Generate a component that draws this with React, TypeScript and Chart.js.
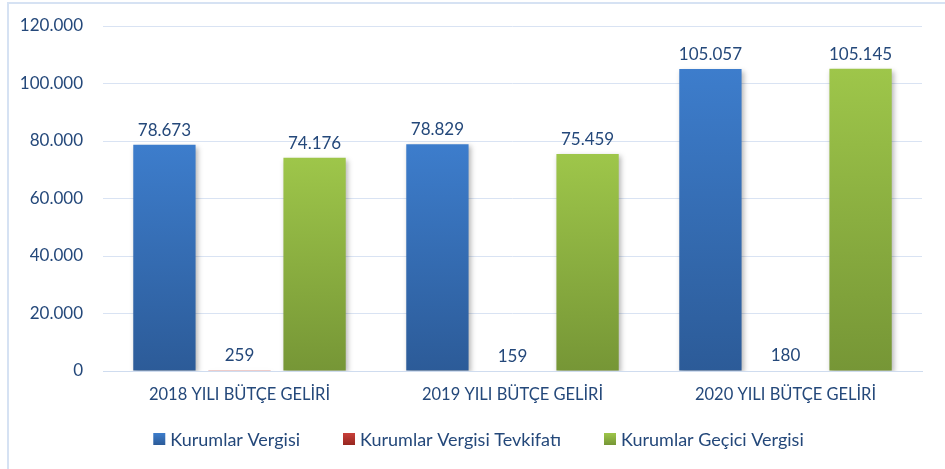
import React, { useEffect, useRef } from "react";
import { Chart, registerables } from "chart.js";

Chart.register(...registerables);

const categories = ["2018 YILI BÜTÇE GELİRİ", "2019 YILI BÜTÇE GELİRİ", "2020 YILI BÜTÇE GELİRİ"];
const kurumlarVergisi = [78673, 78829, 105057];
const tevkifat = [259, 159, 180];
const geciciVergi = [74176, 75459, 105145];
const seriesNames = ["Kurumlar Vergisi", "Kurumlar Vergisi Tevkifatı", "Kurumlar Geçici Vergisi"];
const yTicks = [0, 20000, 40000, 60000, 80000, 100000, 120000];

const TEXT = "#24487a";
const FONT = "Lato, 'Open Sans', sans-serif";

const gradients = [
  ["#3d7dcc", "#2c5b98"],
  ["#c9403a", "#96261f"],
  ["#9ec64a", "#769636"],
];

const fmt = (v: number) => v.toLocaleString("tr-TR");

function barGradient(idx: number) {
  return (ctx: any) => {
    const chart = ctx.chart;
    const area = chart.chartArea;
    if (!area || ctx.type !== "data") return gradients[idx][0];
    const y = chart.scales.y;
    const top = y.getPixelForValue(ctx.raw);
    const bottom = y.getPixelForValue(0);
    const g = chart.ctx.createLinearGradient(0, top, 0, Math.max(bottom, top + 1));
    g.addColorStop(0, gradients[idx][0]);
    g.addColorStop(1, gradients[idx][1]);
    return g;
  };
}

const frame = {
  id: "frame",
  beforeDraw(chart: any) {
    const c = chart.ctx;
    c.save();
    c.fillStyle = "#ffffff";
    c.fillRect(0, 0, chart.width, chart.height);
    c.strokeStyle = "#d6e2f3";
    c.lineWidth = 2;
    c.strokeRect(8, 3, chart.width + 20, chart.height + 20);
    c.restore();
  },
};

const shadow = {
  id: "shadow",
  beforeDatasetDraw(chart: any) {
    const c = chart.ctx;
    c.save();
    c.shadowColor = "rgba(0,0,0,0.28)";
    c.shadowBlur = 5;
    c.shadowOffsetX = 2;
    c.shadowOffsetY = 2;
  },
  afterDatasetDraw(chart: any) {
    chart.ctx.restore();
  },
};

const labels = {
  id: "valueLabels",
  afterDatasetsDraw(chart: any) {
    const c = chart.ctx;
    c.save();
    c.fillStyle = TEXT;
    c.font = `17px ${FONT}`;
    c.textAlign = "center";
    c.textBaseline = "bottom";
    chart.data.datasets.forEach((ds: any, i: number) => {
      const meta = chart.getDatasetMeta(i);
      meta.data.forEach((el: any, j: number) => {
        c.fillText(fmt(ds.data[j]), el.x, el.y - 6);
      });
    });
    c.restore();
  },
};

const legend = {
  id: "customLegend",
  afterDraw(chart: any) {
    const c = chart.ctx;
    c.save();
    c.font = `18px ${FONT}`;
    c.textBaseline = "middle";
    const box = 12;
    const gapText = 5;
    const gapItem = 43;
    const widths = seriesNames.map((n) => box + gapText + c.measureText(n).width);
    const total = widths.reduce((a, b) => a + b, 0) + gapItem * (seriesNames.length - 1);
    let x = chart.width / 2 + 6 - total / 2;
    const cy = chart.chartArea.bottom + 68;
    seriesNames.forEach((n, i) => {
      const g = c.createLinearGradient(0, cy - box / 2, 0, cy + box / 2);
      g.addColorStop(0, gradients[i][0]);
      g.addColorStop(1, gradients[i][1]);
      c.fillStyle = g;
      c.fillRect(x, cy - box / 2, box, box);
      c.fillStyle = TEXT;
      c.fillText(n, x + box + gapText, cy + 1);
      x += widths[i] + gapItem;
    });
    c.restore();
  },
};

export default function App() {
  const ref = useRef<HTMLCanvasElement>(null);
  useEffect(() => {
    if (!ref.current) return;
    const chart = new Chart(ref.current, {
      type: "bar",
      data: {
        labels: categories,
        datasets: [
          { label: seriesNames[0], data: kurumlarVergisi, backgroundColor: barGradient(0) },
          { label: seriesNames[1], data: tevkifat, backgroundColor: barGradient(1) },
          { label: seriesNames[2], data: geciciVergi, backgroundColor: barGradient(2) },
        ],
      },
      options: {
        animation: false,
        responsive: false,
        maintainAspectRatio: false,
        layout: { padding: { left: 0, right: 23, top: 26, bottom: 52 } },
        datasets: { bar: { categoryPercentage: 0.825, barPercentage: 0.83 } },
        scales: {
          x: {
            grid: { display: false, drawTicks: false },
            border: { display: true, color: "#cfdcef", width: 1 },
            ticks: { color: TEXT, font: { family: FONT, size: 16.5 }, padding: 14 },
            afterFit: (s: any) => { s.height = 46; },
          },
          y: {
            min: 0,
            max: 120000,
            afterBuildTicks: (s: any) => { s.ticks = yTicks.map((v) => ({ value: v })); },
            grid: { color: "#d9e3f3", drawTicks: false, lineWidth: 1 },
            border: { display: false },
            ticks: { color: TEXT, font: { family: FONT, size: 17 }, padding: 20, callback: (v: any) => fmt(Number(v)) },
            afterFit: (s: any) => { s.width = 103; s.paddingTop = 0; },
          },
        },
        plugins: {
          legend: { display: false },
          tooltip: { enabled: false },
        },
      },
      plugins: [frame, shadow, labels, legend],
    });
    return () => chart.destroy();
  }, []);
  return (
    <div style={{ position: "fixed", left: 0, top: 0, width: 945, height: 469 }}>
      <canvas ref={ref} width={945} height={469} style={{ width: 945, height: 469, display: "block" }} />
    </div>
  );
}
